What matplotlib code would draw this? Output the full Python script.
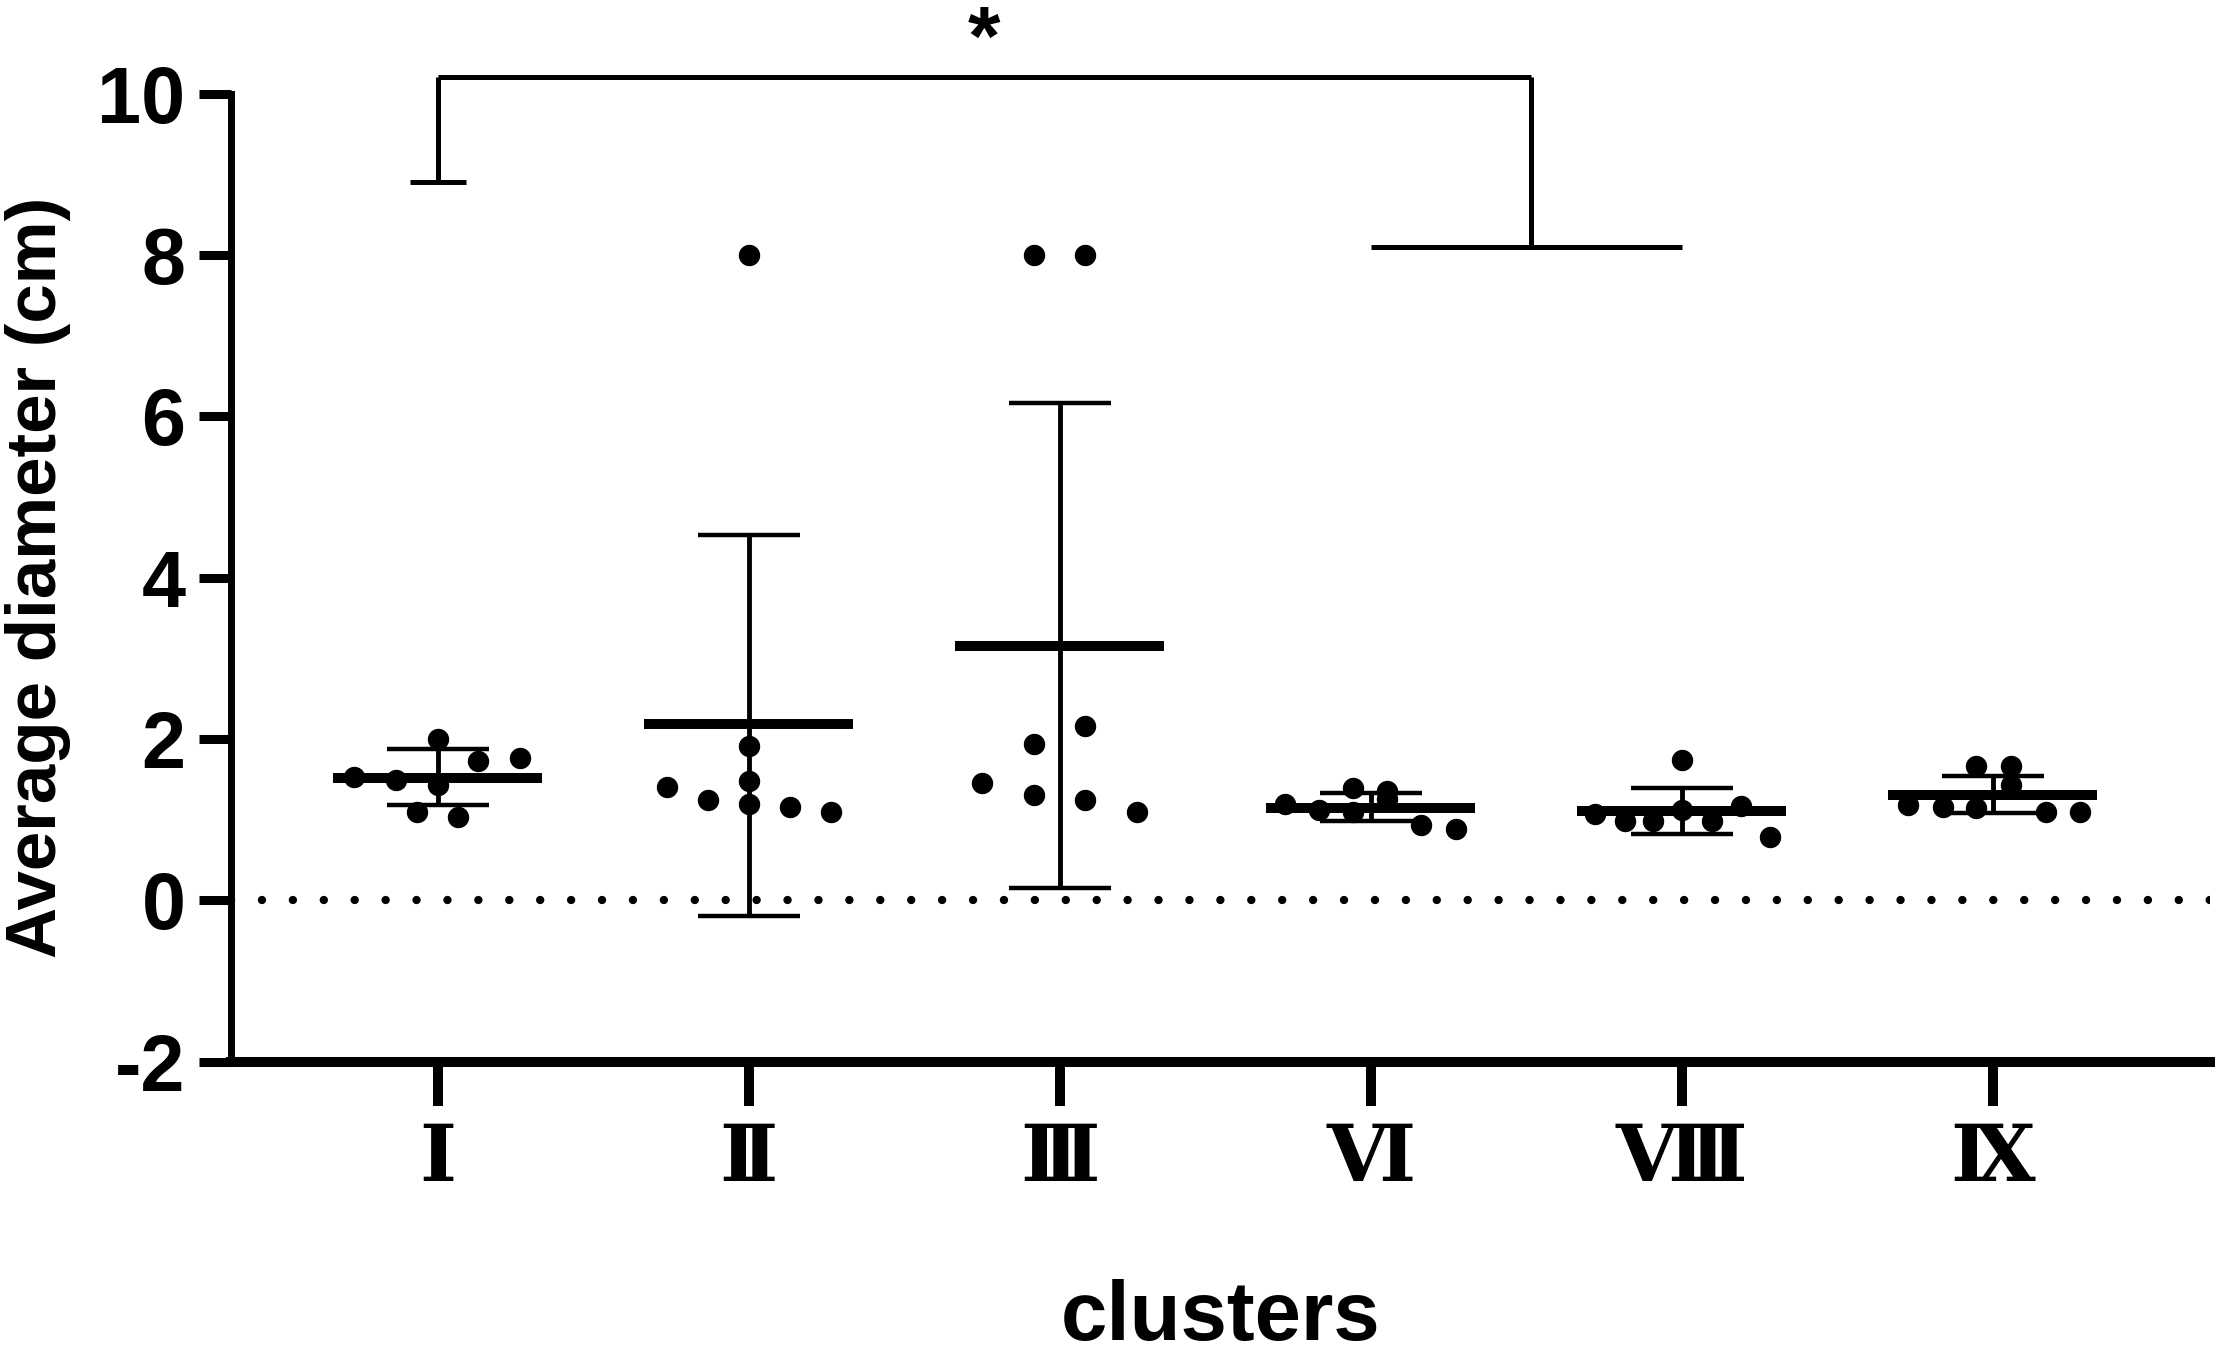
import matplotlib
matplotlib.use("Agg")
import matplotlib.pyplot as plt
import matplotlib.transforms as mtransforms

# ---- data ----
clusters = ["Ⅰ", "Ⅱ", "Ⅲ", "Ⅵ", "Ⅷ", "Ⅸ"]

diam_I = [1.53, 1.49, 2.00, 1.43, 1.73, 1.77, 1.09, 1.03]
diam_II = [8.00, 1.40, 1.24, 1.91, 1.48, 1.19, 1.16, 1.09]
diam_III = [8.00, 8.00, 1.46, 1.94, 2.16, 1.31, 1.24, 1.09]
diam_VI = [1.20, 1.12, 1.39, 1.10, 1.35, 1.25, 0.93, 0.89]
diam_VIII = [1.74, 1.07, 0.98, 0.98, 1.12, 0.98, 1.17, 0.79]
diam_IX = [1.18, 1.16, 1.66, 1.14, 1.66, 1.43, 1.09, 1.09]

mean_vals = [1.52, 2.19, 3.15, 1.14, 1.11, 1.31]
sd_upper = [1.87, 4.53, 6.17, 1.33, 1.39, 1.54]
sd_lower = [1.18, -0.19, 0.15, 0.98, 0.82, 1.08]

# significance bracket: cluster I vs clusters VI-VIII
bracket_left = 8.9
bracket_top = 10.2
bracket_right = 8.1

# ---- layout (scatter spread within each column, as in the figure) ----
spread = [
    [-0.27, -0.135, 0, 0, 0.13, 0.265, -0.066, 0.066],
    [0, -0.264, -0.132, 0, 0, 0, 0.132, 0.264],
    [-0.082, 0.082, -0.25, -0.082, 0.082, -0.082, 0.082, 0.25],
    [-0.277, -0.167, -0.057, -0.057, 0.053, 0.053, 0.162, 0.274],
    [0, -0.278, -0.184, -0.091, 0, 0.096, 0.191, 0.284],
    [-0.272, -0.161, -0.055, -0.055, 0.058, 0.058, 0.17, 0.281],
]
all_diam = [diam_I, diam_II, diam_III, diam_VI, diam_VIII, diam_IX]

plt.rcParams["font.family"] = ["Liberation Sans", "DejaVu Sans"]
plt.rcParams["font.weight"] = "bold"
plt.rcParams["axes.unicode_minus"] = False

fig = plt.figure(figsize=(22.17, 13.55), dpi=100)
ax = fig.add_axes([0.1044, 0.2165, 0.8924, 0.7144])

x = list(range(len(clusters)))

# points
for i, vals in enumerate(all_diam):
    xs = [i + d for d in spread[i]]
    ax.plot(xs, vals, "o", color="black", markersize=14.4, linestyle="none", zorder=3)

# mean lines
ax.hlines(mean_vals, [i - 0.336 for i in x], [i + 0.336 for i in x],
          colors="black", linewidth=7.2, zorder=4)

# SD error bars
yerr = [[m - lo for m, lo in zip(mean_vals, sd_lower)],
        [hi - m for m, hi in zip(mean_vals, sd_upper)]]
ax.errorbar(x, mean_vals, yerr=yerr, fmt="none", ecolor="black",
            elinewidth=3.5, capsize=36.7, capthick=3.2, zorder=4)

# dotted zero line
ax.axhline(0, color="black", linewidth=6.0, linestyle=(0, (0.01, 3.7)),
           dash_capstyle="round", zorder=2)

# significance bracket
bk = dict(color="black", linewidth=3.6, clip_on=False, solid_capstyle="butt")
ax.plot([-0.09, 0.09], [bracket_left, bracket_left], **bk)
ax.plot([0, 0], [bracket_left, bracket_top], **bk)
ax.plot([0, 3.514], [bracket_top, bracket_top], **bk)
ax.plot([3.514, 3.514], [bracket_top, bracket_right], **bk)
ax.plot([3.0, 4.0], [bracket_right, bracket_right], **bk)
ax.text(1.757, 10.36, "*", ha="center", va="baseline", fontsize=60,
        fontweight="bold", clip_on=False)

# axes
ax.set_xlim(-0.663, 5.698)
ax.set_ylim(-2, 10)
ax.set_yticks([-2, 0, 2, 4, 6, 8, 10])
ax.set_xticks(x)
ax.set_xticklabels(clusters, fontsize=57, fontweight="bold",
                   family=["Liberation Serif", "DejaVu Serif", "DejaVu Sans"])
for lbl in ax.get_xticklabels():
    lbl.set_transform(lbl.get_transform() +
                      mtransforms.ScaledTranslation(0.11, 0, fig.dpi_scale_trans))
ax.tick_params(axis="y", direction="out", length=23, width=6.5, labelsize=57, pad=10)
ax.tick_params(axis="x", direction="out", length=32, width=7.2, pad=15)

for side in ["top", "right"]:
    ax.spines[side].set_visible(False)
ax.spines["left"].set_linewidth(5.0)
ax.spines["bottom"].set_linewidth(7.2)

ax.set_ylabel("Average diameter (cm)", fontsize=51, fontweight="bold", va="center")
ax.yaxis.set_label_coords(-0.0978, 0.5)
ax.set_xlabel("clusters", fontsize=60, fontweight="bold", va="baseline")
ax.xaxis.set_label_coords(0.5, -0.2875)

fig.savefig("out.png", dpi=100)
